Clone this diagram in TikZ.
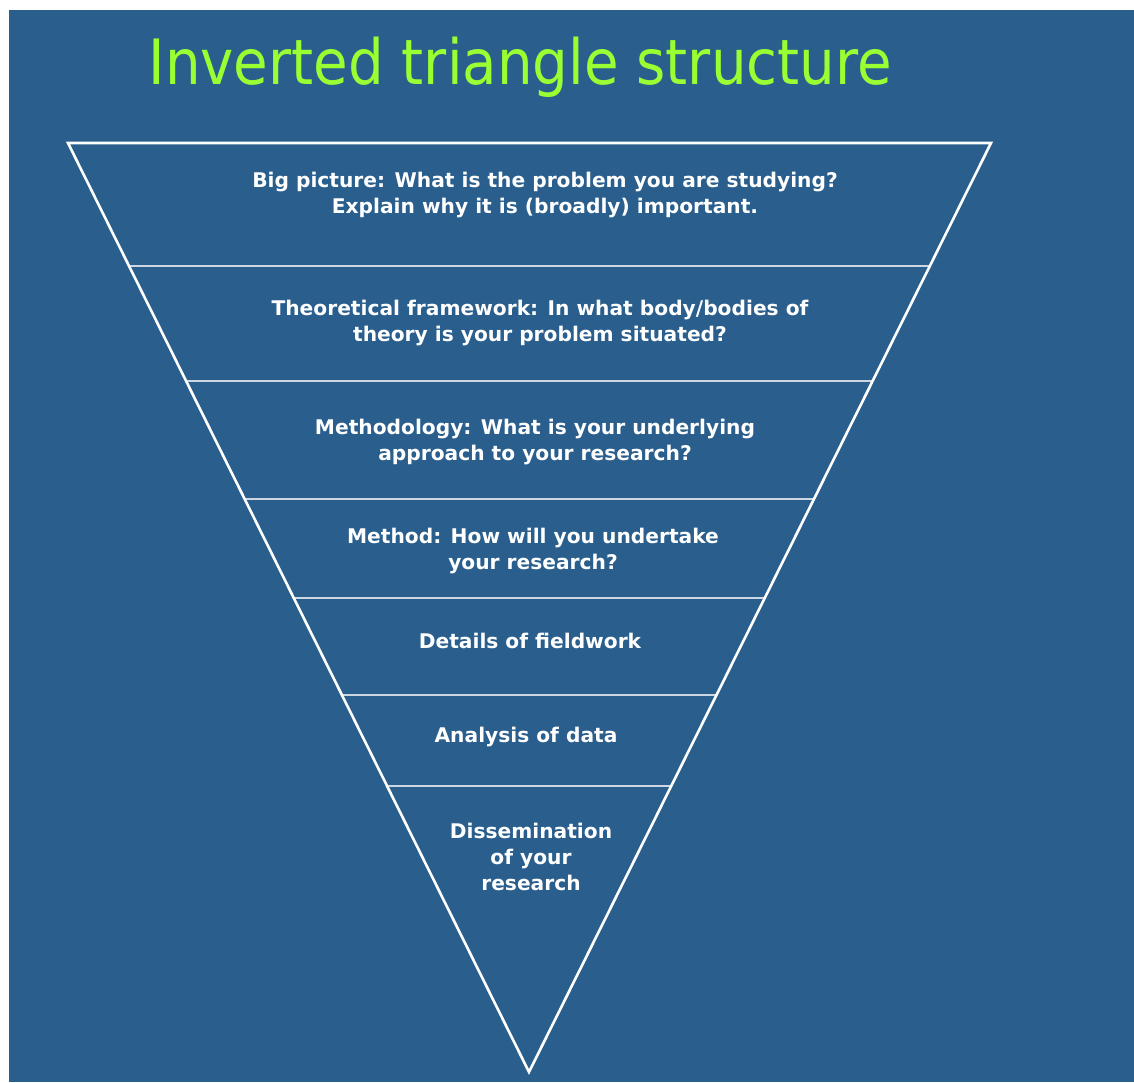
\documentclass[tikz,border=0pt]{standalone}
\usepackage{fontspec}
\setmainfont{DejaVu Sans}
\newfontfamily\titlefont{DejaVu Sans Condensed}
\usetikzlibrary{calc}
\definecolor{bgblue}{RGB}{41,94,141}
\definecolor{titlegreen}{RGB}{153,255,51}
\definecolor{seprule}{RGB}{205,215,228}
\tikzset{
  lbl/.style={text=white, font=\fontsize{20.2}{26}\selectfont\bfseries, align=center, inner sep=0pt},
  outline/.style={draw=white, line width=2.6pt, line join=miter},
  sepline/.style={draw=seprule, line width=2pt}
}
\begin{document}
\begin{tikzpicture}[x=1pt,y=-1pt]
\fill[white] (0,0) rectangle (1134,1082);
\fill[bgblue] (9,10) rectangle (1134,1082);
\useasboundingbox (0,0) rectangle (1134,1082);
\node[text=titlegreen, font=\titlefont\fontsize{62.5}{66}\selectfont, inner sep=0pt] (title) at (520,67) {Inverted triangle structure};
\coordinate (tl) at (68,143);
\coordinate (tr) at (991,143);
\coordinate (ap) at (529,1072);
\foreach \t [count=\i] in {0.1324,0.2562,0.3832,0.4898,0.5942,0.6921}{
  \draw[sepline] ($(tl)!\t!(ap)$) -- ($(tr)!\t!(ap)$);
}
\draw[outline] (tl) -- (tr) -- (ap) -- cycle;
\node[lbl] (l1) at (545,195) {Big picture: What is the problem you are studying?\\Explain why it is (broadly) important.};
\node[lbl] (l2) at (540,323) {Theoretical framework: In what body/bodies of\\theory is your problem situated?};
\node[lbl] (l3) at (535,442) {Methodology: What is your underlying\\approach to your research?};
\node[lbl] (l4) at (533,551) {Method: How will you undertake\\your research?};
\node[lbl] (l5) at (530,641) {Details of fieldwork};
\node[lbl] (l6) at (526,737) {Analysis of data};
\node[lbl] (l7) at (531,857) {Dissemination\\of your\\research};
\end{tikzpicture}
\end{document}
